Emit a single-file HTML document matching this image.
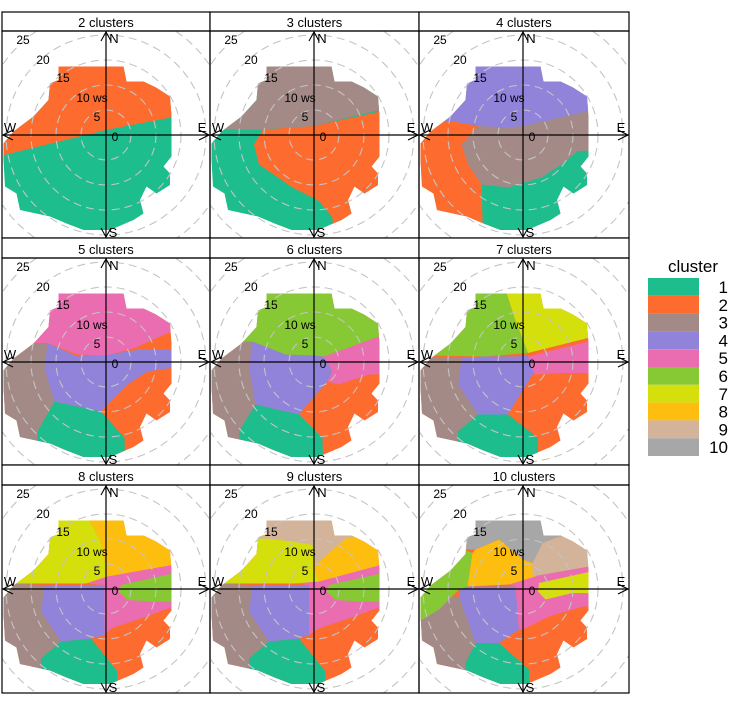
<!DOCTYPE html>
<html><head><meta charset="utf-8"><style>
body{margin:0;background:#fff;}
svg{display:block;font-family:"Liberation Sans",sans-serif;}
</style></head><body>
<svg id="c" width="753" height="712" viewBox="0 0 753 712"></svg>
<script>
const clusterLabels=["1","2","3","4","5","6","7","8","9","10"];
const clusterColors=["#1dbd8d","#fd6b2f","#a48a86","#9183d9","#ea6db2","#86c935","#d5df0c","#fdbe10","#d3b399","#a7a7a7"];
const panelTitles=["2 clusters","3 clusters","4 clusters","5 clusters","6 clusters","7 clusters","8 clusters","9 clusters","10 clusters"];
const ringValues=[5,10,15,20,25];
const ringLabels=["5","10 ws","15","20","25"];
// envelope of data (ws units, x east, y north)
const envX=[-9.5,3.5,4.1,7.5,10,12.8,13.1,13.1,11.5,12.8,12.8,10.1,8.1,6.8,7.5,5.5,0.8,-4.5,-7.9,-11.2,-17.2,-17.9,-20.2,-20.5,-20.5,-18.5,-14.5,-11.5,-11.2,-9.5];
const envY=[13.7,13.7,10.7,10.7,9.5,7.7,3.7,-4.3,-6.3,-7.7,-10,-11.7,-10.3,-13,-15.7,-17,-19,-19,-17.7,-16.3,-15,-11.7,-10.3,-5,-1.7,0.7,3.7,7,10.3,11];
// regions: [clusterIndex, [x,y,...]] painted in order over base
const p2=[[0,[-30,-30,30,-30,30,30,-30,30]],[1,[-22,-4.4,0,1,14,3.7,30,4,30,30,-30,30,-30,-4.5]]];
const p3=[[0,[-30,-30,30,-30,30,30,-30,30]],
 [1,[-10.3,1,-12,-1.9,-11,-5.9,-4.3,-10.5,1,-13.2,3.7,-16.5,4,-30,30,-30,30,5,13.7,4.8,0,1.8,-5,1.5]],
 [2,[-30,1.1,-10.3,1.1,-5,1.5,0,1.8,12.3,4.8,30,5,30,30,-30,30]]];
const p4=[[2,[-30,-30,30,-30,30,30,-30,30]],
 [0,[-8.3,-9.9,-3,-10.5,3.7,-8.5,7.7,-5.9,11,-3.2,30,-3,30,-30,-8,-30]],
 [1,[-30,3,-14.3,2.8,-9,1.8,-12.3,-1.9,-11,-5.9,-8.3,-9.9,-7.7,-30,-30,-30]],
 [3,[-30,2.8,-14.3,2.8,-9,1.8,-3,1.5,0,1.8,13,4.8,30,5,30,30,-30,30]]];
const p5=[[1,[-30,-30,30,-30,30,30,-30,30]],
 [2,[-30,4,-11.7,3.8,-12.3,-1.2,-11,-5.9,-10.3,-7.9,-13.7,-13.9,-14,-30,-30,-30]],
 [0,[-10.3,-7.9,-1,-9.9,3.7,-15.2,4,-30,-14,-30,-13.7,-13.9]],
 [3,[-11.7,3.8,-5.7,1.1,0,1.5,7,2.5,13,2.5,30,2.5,30,-1.2,13,-1.2,8.3,-1.9,4.3,-4.5,-1,-9.9,-10.3,-7.9,-11,-5.9,-12.3,-1.2]],
 [4,[-30,4,-11.7,3.8,-5.7,1.5,0,1.3,5.7,2.8,13,6.1,30,6.5,30,30,-30,30]]];
const p6=[[1,[-30,-30,30,-30,30,30,-30,30]],
 [2,[-30,4.1,-12.3,4.1,-13,-1.2,-11.7,-8.5,-15,-13.9,-15,-30,-30,-30]],
 [0,[-11.7,-8.5,-3,-10.5,1.7,-15.2,2,-30,-15,-30,-15,-13.9]],
 [3,[-12.3,4.1,-5.7,1.5,0,1.3,2,1.1,3.7,-1.9,2.7,-3.9,-3,-10.5,-11.7,-8.5,-13,-1.2]],
 [4,[2,1.1,13,5.1,30,5.5,30,-2,11,-2.5,5,-4.5,2.7,-3.9,3.7,-1.9]],
 [5,[-30,4.1,-12.3,4.1,-5.7,1.5,0,1.3,2,1.1,13,5.1,30,5.5,30,30,-30,30]]];
const p7=[[1,[-30,-30,30,-30,30,30,-30,30]],
 [2,[-30,1.5,-12.3,0.8,-13,-4.5,-9,-10.5,-13,-13.9,-13,-30,-30,-30]],
 [0,[-9,-10.5,-3,-10.5,3,-15.2,3,-30,-13,-30,-13,-13.9]],
 [3,[-12.3,0.8,-7.7,1.1,-1.7,1.1,1,1.3,2.3,-1.9,-3,-10.5,-9,-10.5,-13,-4.5]],
 [4,[1,1.1,13,4.1,30,4.3,30,-2.2,11.7,-2.2,7.7,-2.2,2.3,-2.5]],
 [6,[1,1.8,13,4.8,30,5,30,30,-3.3,30,-3.3,13.8,-1.7,8.8]],
 [5,[-30,1.5,-7.7,1.1,1,1.8,-1.7,8.8,-3.3,13.8,-3.3,30,-30,30]]];
const p8=[[1,[-30,-30,30,-30,30,30,-30,30]],
 [2,[-30,1.5,-12.3,0.8,-13,-4.5,-9,-10.5,-13,-13.9,-13,-30,-30,-30]],
 [0,[-9,-10.5,-3,-9.9,2.3,-16.5,2.3,-30,-13,-30,-13,-13.9]],
 [3,[-12.3,0.8,-0.3,0.8,-0.3,-9.2,-3,-9.9,-9,-10.5,-13,-4.5]],
 [4,[-4,1.1,0.3,2.5,13.3,4.8,30,5,30,-3.9,12.3,-3.9,7,-5.9,1,-7.9,-0.3,-9.2,-0.3,0.8]],
 [5,[3,0.8,13.3,3.1,30,3.2,30,-2.5,9.7,-2.5,4.3,-2.2,2.5,-0.5]],
 [7,[0.3,2.5,13.3,4.8,30,5,30,30,-3.3,30,-3.3,13.8,-1,9.5]],
 [6,[-30,1.1,-4,1.1,0.3,2.5,-1,9.5,-3.3,13.8,-3.3,30,-30,30]]];
const p9=[[1,[-30,-30,30,-30,30,30,-30,30]],
 [2,[-30,1.5,-12.3,0.8,-13,-4.5,-9,-10.5,-13,-13.9,-13,-30,-30,-30]],
 [0,[-9,-10.5,-3,-9.9,2.3,-16.5,2.3,-30,-13,-30,-13,-13.9]],
 [3,[-12.3,0.8,-1,0.8,-1,-9.2,-3,-9.9,-9,-10.5,-13,-4.5]],
 [4,[-4,1.1,0.3,2.5,13.3,4.8,30,5,30,-3.9,12.3,-3.9,7,-5.9,1,-7.9,-1,-9.2,-1,0.8]],
 [5,[3,0.8,13.3,3.1,30,3.2,30,-2.5,9.7,-2.5,4.3,-2.2,2.5,-0.5]],
 [7,[1,1.5,13.3,4.8,30,5,30,30,0,30,0,4.1]],
 [6,[-30,1.1,-4,1.1,1,1.5,0,4.1,0,30,-30,30]],
 [8,[-30,10.1,-9.7,10.1,-4.3,9.5,-0.3,8.8,0.3,4.8,6.3,10.1,30,12,30,30,-30,30]]];
const p10=[[1,[-30,-30,30,-30,30,30,-30,30]],
 [2,[-30,-1.5,-12.8,-1.5,-9.5,-10.8,-11.5,-14.8,-11.5,-30,-30,-30]],
 [0,[-9.5,-10.8,-4.8,-10.8,1.2,-16.1,1.2,-30,-11.5,-30,-11.5,-14.8]],
 [3,[-12.8,0.5,-1.5,0.5,-0.8,-8.1,-4.8,-10.8,-9.5,-10.8,-12.8,-1.5]],
 [4,[-2.8,0.9,1.9,2.5,13.2,4.5,30,4.7,30,-3.5,11.9,-3.5,5.2,-5.5,-0.1,-8.1,-0.8,-8.1,-1.5,0.5]],
 [6,[3.2,1.2,13.2,3.4,30,3.5,30,-1,9.9,-0.8,4.5,-2.1,3,-0.5]],
 [5,[-30,15,-10.1,7.2,-11.1,0.5,-12.8,-0.1,-16.8,-4.1,-20.1,-6.1,-30,-7]],
 [7,[-10.1,7.2,-9.5,7.9,-4.8,9.9,0,5.9,1.9,5.2,2.5,2.5,-2.8,0.9,-11.1,0.5]],
 [8,[1.9,5.2,3.9,9.2,7.2,10.5,30,12,30,4.7,13.2,4.5,1.9,2.5]],
 [9,[-30,30,-30,8,-9.5,7.9,-4.8,9.9,0,5.9,1.9,5.2,3.9,9.2,7.2,10.5,30,12,30,30]]];
const panels=[p2,p3,p4,p5,p6,p7,p8,p9,p10];

const NS="http://www.w3.org/2000/svg";
const svg=document.getElementById('c');
function mk(tag,attrs,parent){const e=document.createElementNS(NS,tag);for(const k in attrs)e.setAttribute(k,attrs[k]);(parent||svg).appendChild(e);return e;}
const colX=[2,210,419], colW=[208,209,210];
const rowStrip=[12,238,465], rowPlot=[31,258,485], rowH=[207,207,208];
const SC=5;
const defs=mk('defs',{});
panels.forEach((regions,i)=>{
  const c=i%3,r=Math.floor(i/3);
  const x0=colX[c],w=colW[c],y0=rowPlot[r],h=rowH[r];
  const cx=x0+104,cy=y0+104;
  const sx=v=>cx+v*SC, sy=v=>cy-v*SC;
  const g=mk('g',{});
  
  
  const cp=mk('clipPath',{id:'clip'+i},defs);
  let pts=envX.map((v,k)=>sx(v)+','+sy(envY[k])).join(' ');
  mk('polygon',{points:pts},cp);
  const cr=mk('clipPath',{id:'rc'+i},defs);
  mk('rect',{x:x0,y:y0,width:w,height:h},cr);
  const outer=mk('g',{'clip-path':'url(#rc'+i+')'},g);
  const fills=mk('g',{'clip-path':'url(#clip'+i+')'},outer);
  regions.forEach(reg=>{
    const a=reg[1];let p=[];
    for(let k=0;k<a.length;k+=2)p.push(sx(a[k])+','+sy(a[k+1]));
    const pg=mk('polygon',{points:p.join(' '),fill:clusterColors[reg[0]]},fills);
    
    
  });
  ringValues.forEach(v=>{
    const ci=mk('circle',{cx:cx,cy:cy,r:v*SC,fill:'none',stroke:'#c4c4c4','stroke-width':1.1,'stroke-dasharray':'8,5'},outer);
    
    
  });
  mk('line',{x1:cx,y1:y0,x2:cx,y2:y0+h,stroke:'#000','stroke-width':1.2},outer);
  mk('line',{x1:x0,y1:cy,x2:x0+w,y2:cy,stroke:'#000','stroke-width':1.2},outer);
  mk('polyline',{points:`${cx-5},${y0+10} ${cx},${y0+1} ${cx+5},${y0+10}`,fill:'none',stroke:'#000','stroke-width':1.1},outer);
  mk('polyline',{points:`${cx-5},${y0+h-10} ${cx},${y0+h-1} ${cx+5},${y0+h-10}`,fill:'none',stroke:'#000','stroke-width':1.1},outer);
  mk('polyline',{points:`${x0+11},${cy-5} ${x0+1},${cy} ${x0+11},${cy+5}`,fill:'none',stroke:'#000','stroke-width':1.1},outer);
  mk('polyline',{points:`${x0+w-11},${cy-5} ${x0+w-1},${cy} ${x0+w-11},${cy+5}`,fill:'none',stroke:'#000','stroke-width':1.1},outer);
  const t=(s,x,y,anchor,name,size)=>{const e=mk('text',{x:x,y:y,'font-size':size||12,'text-anchor':anchor||'middle',fill:'#000'},g);e.textContent=s;return e;};
  t('N',cx+8,y0+12,'middle','north-label',13);
  t('S',cx+7,y0+h-1,'middle','south-label',13);
  t('W',x0+8,cy-3,'middle','west-label',13);
  t('E',x0+w-8,cy-3,'middle','east-label',13);
  t('0',cx+9,cy+6,'middle','ring-label-0');
  const lp=[[-9,-14],[-14,-33],[-43,-53],[-63,-71],[-83,-91]];
  ringLabels.forEach((s,k)=>t(s,cx+lp[k][0],cy+lp[k][1],'middle','ring-label-'+ringValues[k]));
  const sy0=rowStrip[r];
  mk('rect',{x:x0,y:sy0,width:w,height:y0-sy0,fill:'#fff',stroke:'#000','stroke-width':1.2},g);
  t(panelTitles[i],x0+w/2,y0-4,'middle','panel-title',13);
  mk('rect',{x:x0,y:y0,width:w,height:h,fill:'none',stroke:'#000','stroke-width':1.2},g);
});
const lg=mk('g',{});


const lt=mk('text',{x:693,y:272,'font-size':17,'text-anchor':'middle'},lg);
lt.textContent='cluster';


clusterLabels.forEach((s,k)=>{
  const y=278+k*17.8;
  const rc=mk('rect',{x:648,y:y,width:51,height:17.8,fill:clusterColors[k]},lg);
  
  
  const tx=mk('text',{x:728,y:y+15,'font-size':17,'text-anchor':'end'},lg);
  tx.textContent=s;
  
  
});
</script>
</body></html>
